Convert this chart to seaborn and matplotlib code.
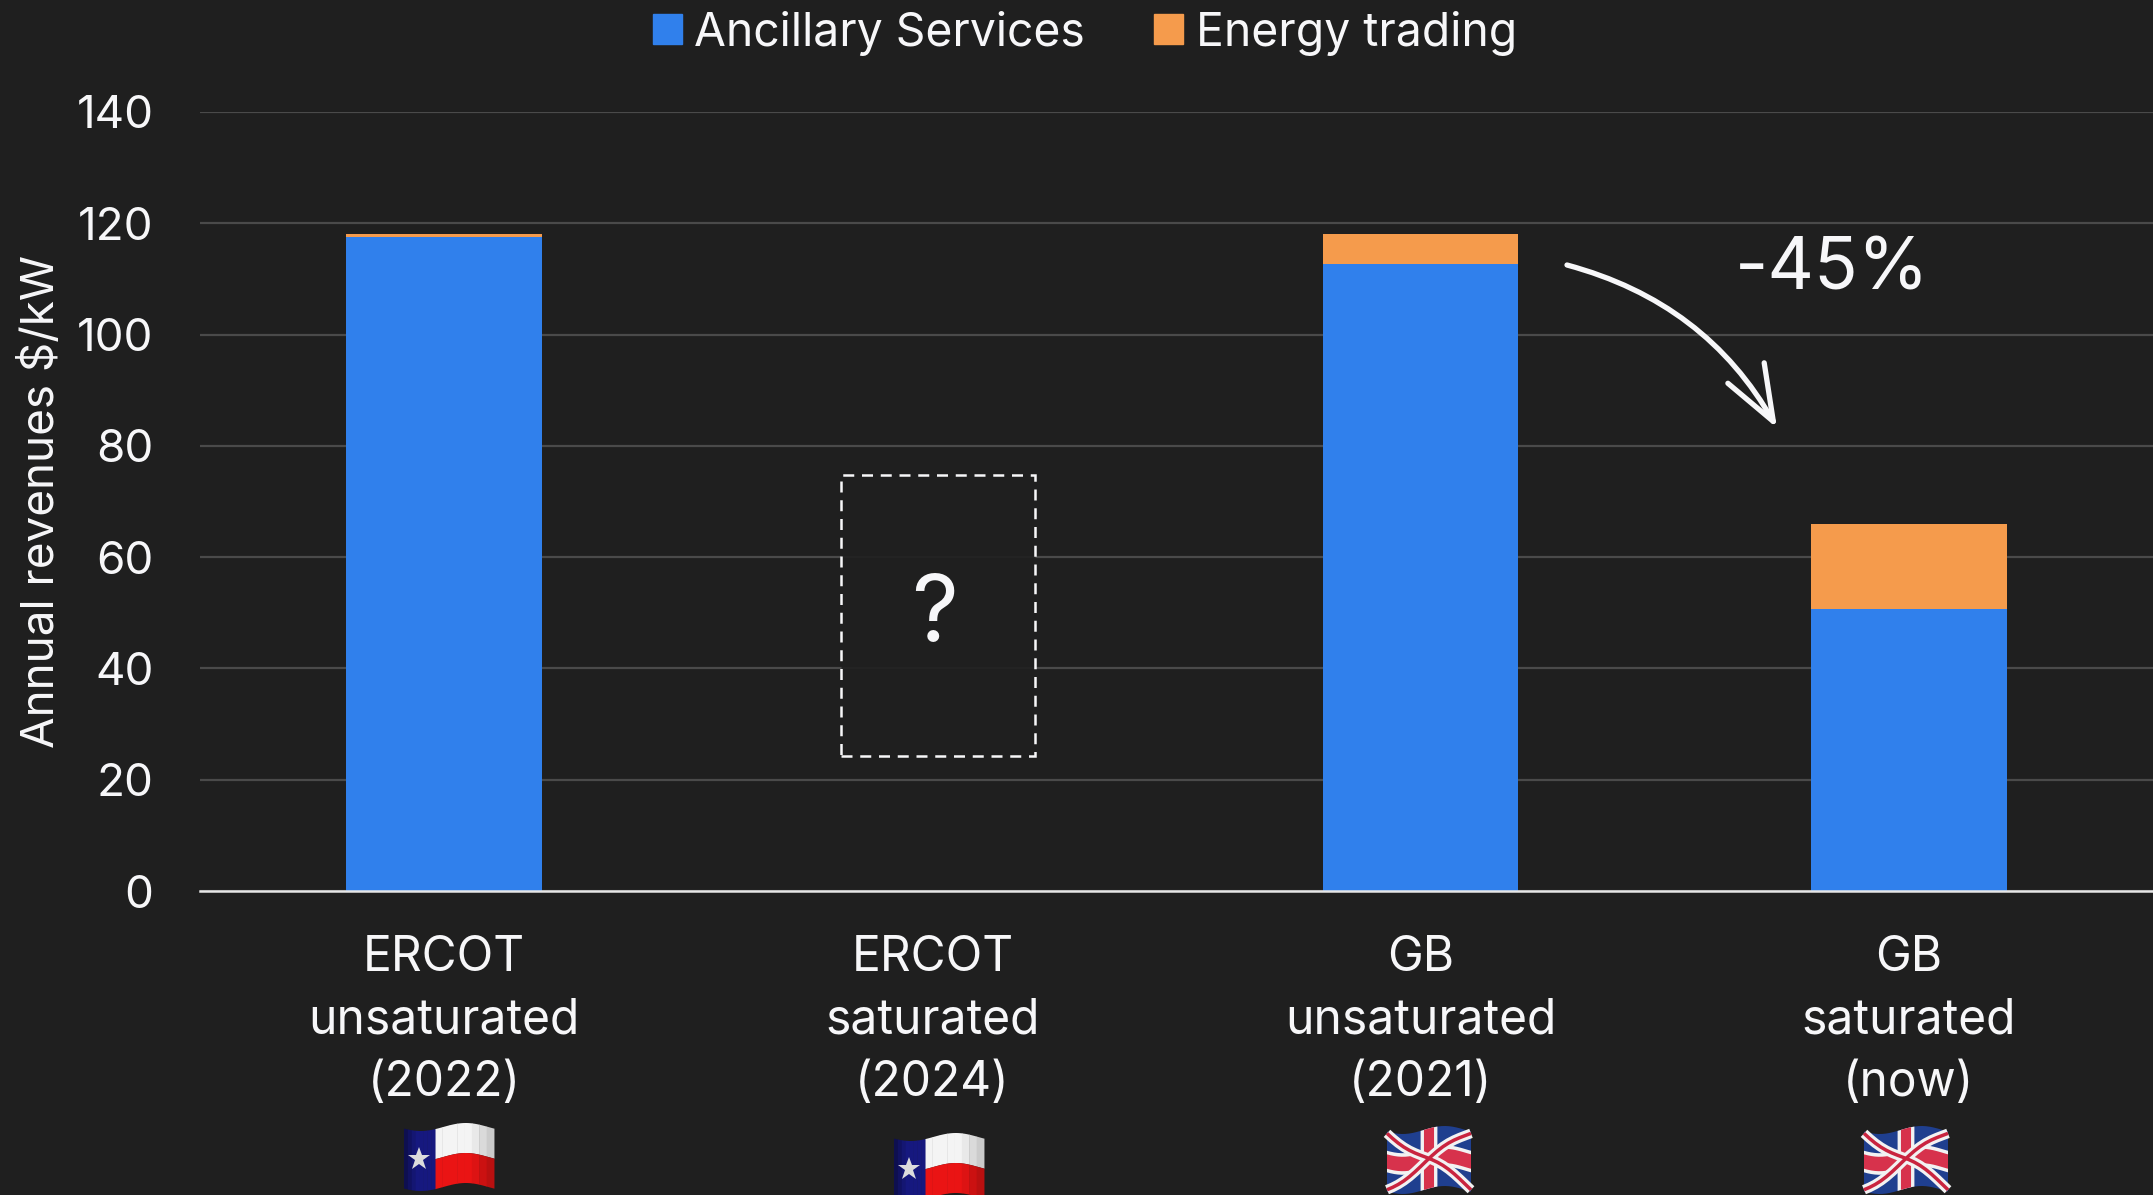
import numpy as np
import pandas as pd
import seaborn as sns
import matplotlib.pyplot as plt
from matplotlib.colors import to_rgb
from matplotlib.patches import FancyArrowPatch, Polygon, Rectangle
from matplotlib.lines import Line2D

# values
categories = ['ERCOT\nunsaturated\n(2022)', 'ERCOT\nsaturated\n(2024)', 'GB\nunsaturated\n(2021)', 'GB\nsaturated\n(now)']
ancillary = [117.5, 0, 112.7, 50.7]
energy = [0.6, 0, 5.3, 15.2]
unknown_low = 24.3
unknown_high = 74.8
y_ticks = [0, 20, 40, 60, 80, 100, 120, 140]
flags = ['texas', 'texas', 'uk', 'uk']

BG = '#1f1f1f'
BLUE = '#3080ec'
ORANGE = '#f59b4c'
WHITE = '#f7f7f9'
W, H = 2153, 1195

sns.set_theme(style='dark')
plt.rcParams['font.family'] = ['Inter', 'DejaVu Sans']
plt.rcParams['font.weight'] = 'normal'

df = pd.DataFrame({'category': categories, 'ancillary': ancillary, 'energy': energy})
df['total'] = df['ancillary'] + df['energy']

fig = plt.figure(figsize=(W / 100, H / 100), dpi=100, facecolor=BG)
ax = fig.add_axes([200 / W, 1 - 891 / H, 1 - 200 / W, (891 - 112) / H], facecolor=BG)

# totals first, blue on top gives the stacked look
sns.barplot(data=df, x='category', y='total', color=ORANGE, width=0.4, saturation=1, linewidth=0, ax=ax, zorder=3)
sns.barplot(data=df, x='category', y='ancillary', color=BLUE, width=0.4, saturation=1, linewidth=0, ax=ax, zorder=3)

ax.set_xlim(-0.5, 3.5)
ax.set_ylim(0, 140)
ax.set_yticks(y_ticks)
ax.set_xlabel('')
ax.set_ylabel('Annual revenues $/kW', color=WHITE, fontsize=33, labelpad=0)
ax.yaxis.set_label_coords(-137 / (W - 200), 0.50)
ax.grid(axis='y', color='#4a4a4a', linewidth=1.6, zorder=0)
ax.grid(axis='x', visible=False)
ax.tick_params(axis='y', colors=WHITE, labelsize=33, length=0, pad=33.5)
ax.tick_params(axis='x', colors=WHITE, labelsize=34.5, length=0, pad=32)
for lab in ax.get_xticklabels():
    lab.set_linespacing(1.45)
for s in ['top', 'right', 'left']:
    ax.spines[s].set_visible(False)
ax.spines['bottom'].set_color('#e6e6e6')
ax.spines['bottom'].set_linewidth(1.8)
ax.spines['bottom'].set_zorder(5)

# dashed box with the question mark, gridlines almost hidden behind it
box = Rectangle((0.813, unknown_low), 0.397, unknown_high - unknown_low, fill=True,
                facecolor=(*to_rgb(BG), 0.9), edgecolor=WHITE, linestyle=(0, (4.4, 3.1)),
                linewidth=1.8, zorder=4)
ax.add_patch(box)
ax.text(1.005, (unknown_low + unknown_high) / 2 - 0.3, '?', color=WHITE, fontsize=66, ha='center', va='center', zorder=5)

# curved arrow and the drop label
to_fig = lambda px, py: (px / W, 1 - py / H)
arrow = FancyArrowPatch(to_fig(1567, 265), to_fig(1777, 428), transform=fig.transFigure,
                        connectionstyle='arc3,rad=-0.21', arrowstyle='->,head_length=40,head_width=15',
                        color=WHITE, linewidth=3.8, capstyle='round', joinstyle='round', zorder=6,
                        shrinkA=0, shrinkB=0)
fig.add_artist(arrow)
fig.text(*to_fig(1832, 270), '-45%', color=WHITE, fontsize=52, ha='center', va='center')

# legend
handles = [Rectangle((0, 0), 1, 1, color=BLUE), Rectangle((0, 0), 1, 1, color=ORANGE)]
fig.legend(handles, ['Ancillary Services', 'Energy trading'], loc='center', bbox_to_anchor=(1085 / W, 1 - 33 / H),
           ncol=2, frameon=False, fontsize=33.3, labelcolor=WHITE, handlelength=0.62, handleheight=0.62,
           handletextpad=0.27, columnspacing=1.5, borderpad=0)


# wavy emoji style flags, drawn in pixel coordinates
def wave(px, py, w, h, u0, u1, v0, v1, amp, color):
    us = np.linspace(u0, u1, 24)
    top = [(px + u * w, py + v0 * h + amp * np.sin(u * 2 * np.pi + 0.4)) for u in us]
    bot = [(px + u * w, py + v1 * h + amp * np.sin(u * 2 * np.pi + 0.4)) for u in us[::-1]]
    pts = [to_fig(a, b) for a, b in top + bot]
    fig.add_artist(Polygon(pts, closed=True, transform=fig.transFigure, facecolor=color, edgecolor='none'))


def shaded(px, py, w, h, u0, u1, v0, v1, amp, color, left, right):
    # split a stripe in narrow bands so the flag looks rounded at its edges
    edges = np.linspace(u0, u1, 9)
    for a, b in zip(edges[:-1], edges[1:]):
        m = (a + b) / 2
        k = left + (1 - left) * min((m - u0) / (u1 - u0) * 2.5, 1)
        k = min(k, right + (1 - right) * min((u1 - m) / (u1 - u0) * 2.5, 1))
        wave(px, py, w, h, a, b + 0.005, v0, v1, amp, tuple(np.array(to_rgb(color)) * k))


def bar_band(px, py, w, h, amp, a, b, th, color):
    # slanted band across the flag from a to b, in unit coordinates
    pts = []
    for t in np.linspace(0, 1, 16):
        u = a[0] + (b[0] - a[0]) * t
        v = a[1] + (b[1] - a[1]) * t
        pts.append(to_fig(px + u * w, py + v * h + amp * np.sin(u * 2 * np.pi + 0.4)))
    xs, ys = zip(*pts)
    fig.add_artist(Line2D(xs, ys, transform=fig.transFigure, color=color, linewidth=th, solid_capstyle='butt'))


def draw_texas(px, py):
    w, h, amp = 90, 60, 4
    shaded(px, py, w, h, 0.345, 1, 0, 0.5, amp, '#f4f4f4', 1, 0.8)
    shaded(px, py, w, h, 0.345, 1, 0.5, 1, amp, '#ea1414', 1, 0.75)
    shaded(px, py, w, h, 0, 0.345, 0, 1, amp, '#16187f', 0.55, 1)
    x, y = to_fig(px + 0.17 * w, py + 0.47 * h + amp)
    fig.add_artist(Line2D([x], [y], transform=fig.transFigure, marker='*', markersize=17, color='#dcdcdc', linestyle='none', markeredgewidth=0))


def draw_uk(px, py):
    w, h, amp = 84, 60, 4
    wave(px, py, w, h, 0, 1, 0, 1, amp, '#1f3f8f')
    bar_band(px, py, w, h, amp, (0, 0.03), (1, 0.97), 7, '#f2f2f2')
    bar_band(px, py, w, h, amp, (0, 0.97), (1, 0.03), 7, '#f2f2f2')
    bar_band(px, py, w, h, amp, (0, 0.03), (1, 0.97), 2.5, '#c9243f')
    bar_band(px, py, w, h, amp, (0, 0.97), (1, 0.03), 2.5, '#c9243f')
    wave(px, py, w, h, 0.40, 0.60, 0, 1, amp, '#f2f2f2')
    wave(px, py, w, h, 0, 1, 0.32, 0.68, amp, '#f2f2f2')
    wave(px, py, w, h, 0.44, 0.56, 0, 1, amp, '#d7324c')
    wave(px, py, w, h, 0, 1, 0.38, 0.62, amp, '#d7324c')


flag_pos = [(404, 1127), (894, 1137), (1387, 1130), (1864, 1130)]
for kind, (fx, fy) in zip(flags, flag_pos):
    if kind == 'texas':
        draw_texas(fx, fy)
    else:
        draw_uk(fx, fy)

fig.savefig('out.png', dpi=100, facecolor=BG)
